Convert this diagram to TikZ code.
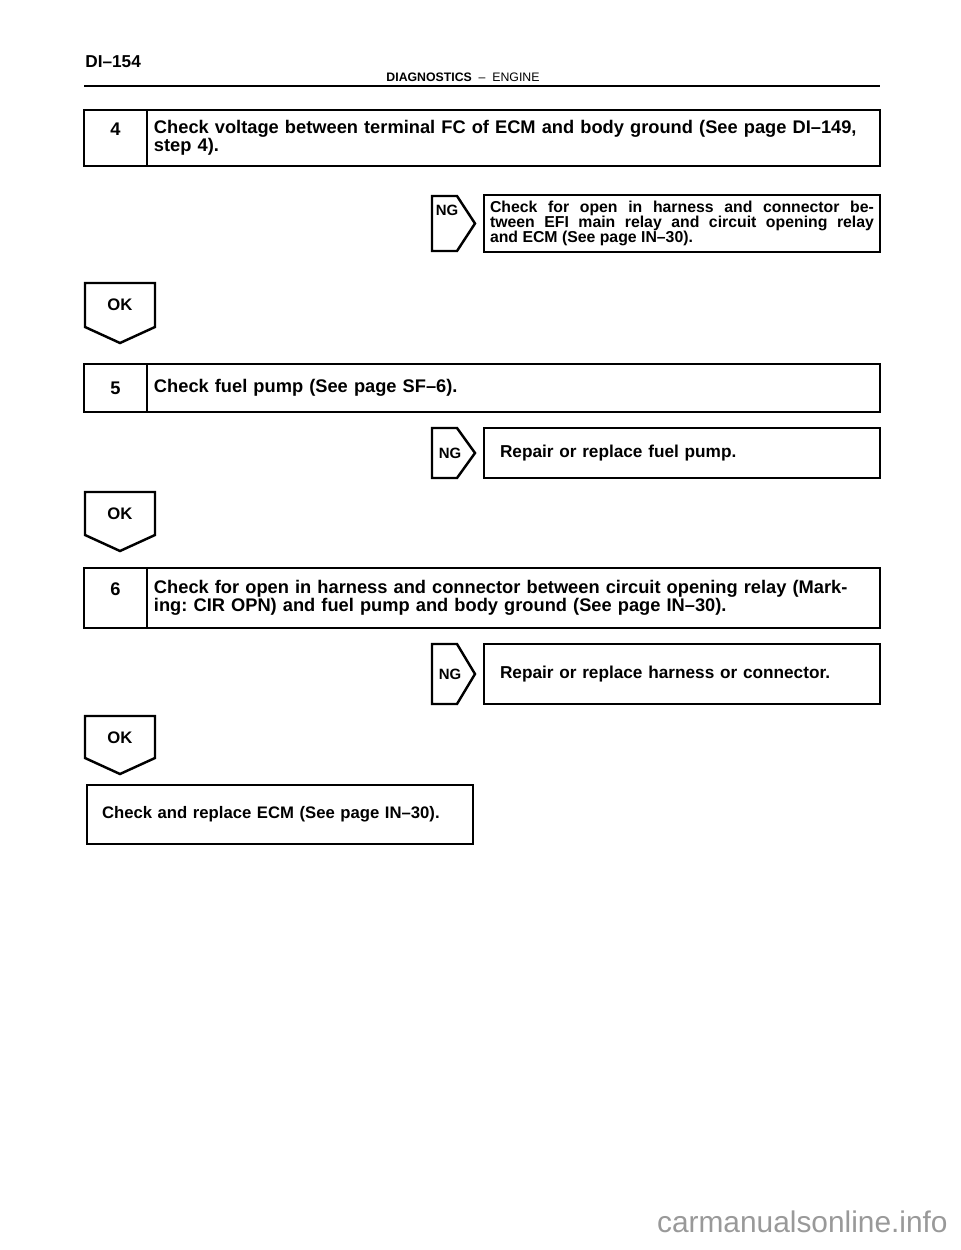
\documentclass[tikz,border=0pt]{standalone}
\usepackage{fontspec}
\setmainfont{Liberation Sans}
\usetikzlibrary{positioning}
\frenchspacing

\begin{document}
\begin{tikzpicture}[x=0.02cm, y=-0.02cm,
    numbox/.style={draw, line width=1.4pt, outer sep=0pt, minimum width=1.26cm, align=center, font=\fontsize{10.4}{10.4}\selectfont\bfseries},
    stepbox/.style={draw, line width=1.4pt, outer sep=0pt, minimum width=14.66cm, text width=14.38cm, inner xsep=0.14cm, align=left, font=\fontsize{10.4}{10.4}\selectfont\bfseries},
    ngbox/.style={draw, line width=1.4pt, outer sep=0pt, minimum width=7.92cm, text width=7.28cm, inner xsep=0.32cm, align=left, font=\fontsize{9.8}{10}\selectfont\bfseries},
    tag/.style={inner sep=0pt, font=\fontsize{8.5}{9}\selectfont\bfseries},
    oktag/.style={inner sep=0pt, font=\fontsize{9.5}{10}\selectfont\bfseries},
    tagline/.style={line width=1.4pt, line join=miter}
]
    \useasboundingbox (0,0) rectangle (960,1250);

    % Page header
    \node (page) [anchor=west, inner sep=0pt, font=\fontsize{9.8}{10}\selectfont\bfseries] at (85,62) {DI–154};
    \node (head) [anchor=base, inner sep=0pt, font=\fontsize{7}{8}\selectfont] at (463,82) {\textbf{DIAGNOSTICS}\ \ –\ \ ENGINE};
    \coordinate (rule_l) at (84,86);
    \coordinate (rule_r) at (880,86);
    \draw [line width=1.1pt] (rule_l) -- (rule_r);

    % Step 4
    \node (n4) [numbox, minimum height=1.12cm] at (115.5,138) {4\\\mbox{}};
    \node (s4) [stepbox, minimum height=1.12cm, right=0pt of n4] {Check voltage between terminal FC of ECM and body ground (See page DI–149,\\step 4).};

    \node (r4) [ngbox, minimum height=1.1cm, anchor=west, inner xsep=0.12cm, text width=7.68cm, align=justify, font=\fontsize{9}{8.6}\selectfont\bfseries] at (484,223.5) {Check for open in harness and connector be-\linebreak tween EFI main relay and circuit opening relay\linebreak and ECM (See page IN–30).};
    \node (ng4) [tag] at (447,210) {NG};
    \draw [tagline] (r4.west) ++(-52,-27.5) -- ++(25,0) -- ++(18,27.5) -- ++(-18,27.5) -- ++(-25,0) -- cycle;

    \node (ok4) [oktag] at (120,305) {OK};
    \draw [tagline] (ok4) ++(-35,-22) -- ++(70,0) -- ++(0,44) -- ++(-35,16) -- ++(-35,-16) -- cycle;

    % Step 5
    \node (n5) [numbox, minimum height=0.96cm] at (115.5,388) {5};
    \node (s5) [stepbox, minimum height=0.96cm, right=0pt of n5] {Check fuel pump (See page SF–6).};

    \node (r5) [ngbox, minimum height=1.0cm, anchor=west] at (484,453) {Repair or replace fuel pump.};
    \node (ng5) [tag] at (450,453) {NG};
    \draw [tagline] (r5.west) ++(-52,-25) -- ++(25,0) -- ++(18,25) -- ++(-18,25) -- ++(-25,0) -- cycle;

    \node (ok5) [oktag] at (120,514) {OK};
    \draw [tagline] (ok5) ++(-35,-22) -- ++(70,0) -- ++(0,43) -- ++(-35,16) -- ++(-35,-16) -- cycle;

    % Step 6
    \node (n6) [numbox, minimum height=1.2cm] at (115.5,598) {6\\\mbox{}};
    \node (s6) [stepbox, minimum height=1.2cm, right=0pt of n6] {Check for open in harness and connector between circuit opening relay (Mark-\\ing: CIR OPN) and fuel pump and body ground (See page IN–30).};

    \node (r6) [ngbox, minimum height=1.2cm, anchor=west] at (484,674) {Repair or replace harness or connector.};
    \node (ng6) [tag] at (450,674) {NG};
    \draw [tagline] (r6.west) ++(-52,-30) -- ++(25,0) -- ++(18,30) -- ++(-18,30) -- ++(-25,0) -- cycle;

    \node (ok6) [oktag] at (120,738) {OK};
    \draw [tagline] (ok6) ++(-35,-22) -- ++(70,0) -- ++(0,42) -- ++(-35,16) -- ++(-35,-16) -- cycle;

    % Last step
    \node (ecm) [draw, line width=1.4pt, outer sep=0pt, minimum width=7.72cm, text width=7.12cm, inner xsep=0.3cm, minimum height=1.18cm, align=left, font=\fontsize{9.5}{10}\selectfont\bfseries] at (280,814.5) {Check and replace ECM (See page IN–30).};

    \node (mark) [anchor=base east, inner sep=0pt, text=black!40, font=\fontsize{17}{17}\selectfont] at (948,1232) {carmanualsonline.info};
\end{tikzpicture}
\end{document}
